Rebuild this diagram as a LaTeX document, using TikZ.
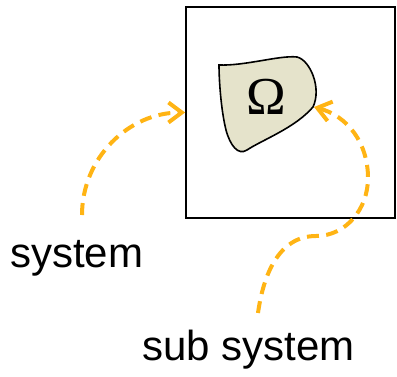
\documentclass[tikz,border=0pt]{standalone}
\usepackage{fontspec}
\setmainfont{Liberation Sans}
\newfontfamily\greekfont{Liberation Serif}
\usetikzlibrary{
	positioning
	,arrows.meta
}
\definecolor{flowcolor}{HTML}{FFB414}
\definecolor{blobcolor}{HTML}{E5E3CB}
\tikzset{
	>={Straight Barb[length=10pt,width=15pt]}
	,system box/.style={
		draw,
		rectangle,
		line width=1.3pt,
		minimum width=156.75pt,
		minimum height=158.25pt,
	}
	,blob/.style={
		draw,
		fill=blobcolor,
		line width=1.2pt,
	}
	,omega/.style={
		inner sep=0mm,
		font=\greekfont\fontsize{40}{44}\selectfont,
	}
	,label text/.style={
		inner sep=0mm,
		anchor=base west,
		font=\fontsize{31.5}{36}\selectfont,
	}
	,flow/.style={
		->,
		draw=flowcolor,
		line width=3pt,
		dash pattern=on 9pt off 5.5pt,
	}
}

\begin{document}
\begin{tikzpicture}[x=0.75pt,y=-0.75pt]
	\useasboundingbox (0,0) rectangle (397,376);

	\node[system box](box) at(290.5,112.5){};

	% the sub system
	\draw[blob] (219,65) .. controls (245,66) and (280,55) .. (297,57)
		.. controls (310,60) and (322,88) .. (313,107)
		.. controls (295,128) and (262,140) .. (247,150)
		.. controls (238,156) and (230,145) .. (226,130)
		.. controls (221,110) and (219,80) .. (219,65) -- cycle;
	\node[omega](omega) at(266,97){Ω};
	\coordinate (omegatip) at(314,107);

	\begin{scope}[every node/.append style={label text}]
		\node[](sys) at(10,267){system};
		\node[](subsys) at(142,360){sub system};
	\end{scope}

	\coordinate (sysfrom) at(82,215);
	\coordinate (subfrom) at(258,313);
	\coordinate (subbend) at(316,236);
	\coordinate (subturn) at(368,178);

	\draw[flow] (sysfrom) to[out=90,in=180] (box.west);
	\draw[flow] (subfrom) to[out=82,in=180] (subbend)
		to[out=0,in=-90] (subturn) to[out=90,in=-15] (omegatip);

\end{tikzpicture}
\end{document}
